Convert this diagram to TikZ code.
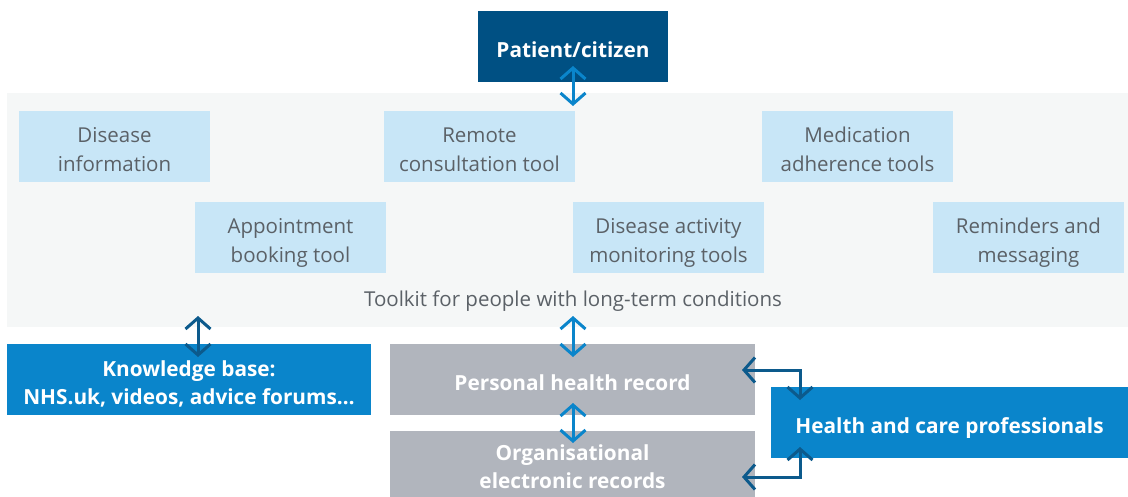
\documentclass[tikz,border=0pt]{standalone}
\usepackage{fontspec}
\setmainfont{Open Sans}
\usetikzlibrary{arrows.meta}
\definecolor{darkb}{HTML}{005083}
\definecolor{midb}{HTML}{0A85CB}
\definecolor{lightb}{HTML}{C8E6F7}
\definecolor{bgg}{HTML}{F5F7F7}
\definecolor{recg}{HTML}{B1B5BD}
\definecolor{txtg}{HTML}{5B6167}
\definecolor{arrlight}{HTML}{0A85CB}
\definecolor{arrdark}{HTML}{0C5A8C}
\newcommand\dnt[1]{\begin{tabular}{@{}c@{}}#1\end{tabular}}
\tikzset{
  tool/.style={fill=lightb, minimum width=191pt, minimum height=71pt, inner sep=0pt,
    label={[tooltxt]center:{\dnt{#1}}}},
  tooltxt/.style={inner sep=0pt, text=txtg, font=\fontsize{20.5}{29}\selectfont, yshift=-5pt},
  head/.style={minimum height=71pt, inner sep=0pt,
    label={[headtxt]center:{\dnt{#1}}}},
  headtxt/.style={inner sep=0pt, text=white, font=\fontsize{20.8}{28}\selectfont\bfseries, yshift=-5pt},
  dbl/.style={line width=3pt, {Straight Barb[length=11pt,width=25pt]}-{Straight Barb[length=11pt,width=25pt]}},
  al/.style={dbl, draw=arrlight},
  ad/.style={dbl, draw=arrdark},
}
\begin{document}
\begin{tikzpicture}[x=1pt,y=-1pt]
\useasboundingbox (0,0) rectangle (1128,496);
\node[fill=bgg, minimum width=1121pt, minimum height=234pt, inner sep=0pt] (tk) at (567.5,210) {};
\node[head={Patient/citizen}, fill=darkb, minimum width=190pt] (pc) at (573,46.5) {};
\node[tool={Disease\\information}] (di) at (114.5,146.5) {};
\node[tool={Remote\\consultation tool}] (rc) at (479.5,146.5) {};
\node[tool={Medication\\adherence tools}] (ma) at (857.5,146.5) {};
\node[tool={Appointment\\booking tool}] (ab) at (290.5,237.5) {};
\node[tool={Disease activity\\monitoring tools}] (da) at (668.5,237.5) {};
\node[tool={Reminders and\\messaging}] (rm) at (1028.5,237.5) {};
\node[text=txtg, font=\fontsize{20.5}{29}\selectfont, inner sep=0pt] (tt) at (573,301) {Toolkit for people with long-term conditions};
\node[head={Knowledge base:\\NHS.uk, videos, advice forums…}, fill=midb, minimum width=364pt] (kb) at (189,379.5) {};
\node[head={Personal health record}, fill=recg, minimum width=365pt] (phr) at (572.5,379.5) {};
\node[head={Organisational\\electronic records}, fill=recg, minimum width=365pt, minimum height=66pt] (org) at (572.5,464) {};
\node[head={Health and care professionals}, fill=midb, minimum width=357pt] (hcp) at (949.5,422.5) {};
% arrow end coordinates
\coordinate (a1) at (573,66);
\coordinate (a2) at (573,106);
\coordinate (b1) at (198,316);
\coordinate (b2) at (198,357);
\coordinate (c1) at (573,316);
\coordinate (c2) at (573,357);
\coordinate (d1) at (573,403);
\coordinate (d2) at (573,443);
\coordinate (e1) at (742,370);
\coordinate (e2) at (800,400);
\coordinate (f1) at (742,477);
\coordinate (f2) at (800,447);
\draw[al] (a1) -- (a2);
\draw[ad] (b1) -- (b2);
\draw[al] (c1) -- (c2);
\draw[al] (d1) -- (d2);
\draw[ad] (e1) -| (e2);
\draw[ad] (f1) -| (f2);
\end{tikzpicture}
\end{document}
